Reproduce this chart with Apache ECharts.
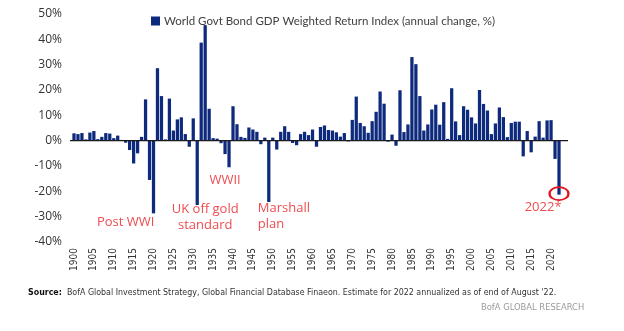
<!DOCTYPE html>
<html>
<head>
<meta charset="utf-8">
<script src="https://cdn.jsdelivr.net/npm/echarts@6/dist/echarts.min.js"></script>
<style>
  html, body { margin: 0; padding: 0; background: #ffffff; }
  #chart { width: 624px; height: 331px; }
</style>
</head>
<body>
<div id="chart"></div>
<script>
// Years on the category axis
const firstYear = 1900;
const lastYear = 2022;
const years = [];
for (let y = firstYear; y <= lastYear; y++) years.push(String(y));

// Annual change of the index, % (2022 is the annualized estimate)
const returns = [
  2.9, 2.6, 3.0, 0.5, 3.2, 3.8, 0.6, 1.5, 3.0, 2.8,        // 1900-1909
  1.0, 2.0, 0.3, -0.8, -3.7, -9.0, -5.0, 1.5, 16.3, -15.5, // 1910-1919
  -28.7, 28.6, 17.6, 0.5, 16.6, 4.0, 8.4, 9.2, 2.6, -2.4,  // 1920-1929
  8.8, -25.4, 38.7, 45.6, 12.6, 1.0, 0.8, -1.0, -5.3, -10.5, // 1930-1939
  13.6, 6.5, 1.5, 1.1, 5.2, 4.4, 3.5, -1.4, 1.2, -24.2,    // 1940-1949
  1.2, -3.5, 3.5, 5.7, 3.5, -0.9, -1.8, 2.6, 3.5, 2.2,     // 1950-1959
  4.4, -2.4, 5.4, 6.0, 4.2, 4.0, 3.3, 1.6, 3.0, -0.3,      // 1960-1969
  8.2, 17.4, 7.0, 5.7, 3.1, 7.7, 11.4, 19.4, 14.6, -0.4,   // 1970-1979
  2.4, -2.0, 19.9, 3.4, 6.4, 33.0, 30.2, 17.6, 4.0, 6.4,   // 1980-1989
  12.3, 14.2, 6.3, 15.2, 0.7, 20.7, 7.6, 2.2, 13.6, 12.2,  // 1990-1999
  9.2, 6.8, 20.0, 14.5, 11.9, 2.6, 6.8, 13.1, 9.3, 1.4,    // 2000-2009
  7.0, 7.5, 7.5, -6.2, 3.8, -4.6, 1.6, 7.7, 1.2, 8.0,      // 2010-2019
  8.1, -7.2, -21.3                                          // 2020-2022
];

// Value axis ticks (%)
const yMin = -40;
const yMax = 50;
const yStep = 10;

const seriesName = 'World Govt Bond GDP Weighted Return Index (annual change, %)';

// Event call-outs anchored in data space
const eventNotes = [
  { text: 'Post WWI', year: '1913', value: -32.4, align: 'center' },
  { text: 'UK off gold\nstandard', year: '1933', value: -30.3, align: 'center' },
  { text: 'WWII', year: '1938', value: -15.6, align: 'center' },
  { text: 'Marshall\nplan', year: '1946', value: -29.8, align: 'left' },
  { text: '2022*', year: '2018', value: -26.2, align: 'center' }
];
const flaggedYear = '2022';

const footnote = "BofA Global Investment Strategy, Global Financial Database Finaeon. Estimate for 2022 annualized as of end of August '22.";
const brand = 'BofA GLOBAL RESEARCH';

const NAVY = '#0e2a7c';
const NOTE_RED = '#ef4b50';
const RING_RED = '#e3141c';
const TEXT_FONT = '"Open Sans", "Noto Sans", sans-serif';
const NARROW_FONT = '"Liberation Sans Narrow", "DejaVu Sans Condensed", sans-serif';

const chart = echarts.init(document.getElementById('chart'), null, { renderer: 'canvas' });

const notePoints = eventNotes.map(n => ({
  coord: [n.year, n.value],
  symbol: 'rect',
  symbolSize: 1,
  itemStyle: { color: 'rgba(0,0,0,0)' },
  label: {
    show: true,
    position: 'inside',
    formatter: n.text,
    color: NOTE_RED,
    fontSize: 13,
    fontFamily: TEXT_FONT,
    lineHeight: 16,
    align: n.align,
    verticalAlign: 'middle',
    offset: n.align === 'left' ? [1, 0] : [0, 0]
  }
}));

notePoints.push({
  coord: [flaggedYear, returns[years.indexOf(flaggedYear)]],
  symbol: 'circle',
  symbolSize: [19, 13],
  symbolOffset: [0, -1],
  itemStyle: { color: 'rgba(0,0,0,0)', borderColor: RING_RED, borderWidth: 2 },
  label: { show: false }
});

chart.setOption({
  animation: false,
  backgroundColor: '#ffffff',
  grid: { left: 72, top: 14, width: 489, height: 228, containLabel: false },
  legend: {
    left: 146,
    top: 10,
    icon: 'rect',
    itemWidth: 9,
    itemHeight: 9,
    itemGap: 4,
    textStyle: { color: '#404040', fontSize: 11.5, fontFamily: 'Lato, "Open Sans", sans-serif', padding: [0, 0, 0, -1] },
    data: [seriesName]
  },
  xAxis: {
    type: 'category',
    data: years,
    boundaryGap: true,
    axisLine: { show: false, onZero: false },
    axisTick: { show: false },
    axisLabel: {
      interval: 4,
      rotate: 90,
      margin: 6,
      color: '#333333',
      fontSize: 10,
      fontFamily: NARROW_FONT
    },
    splitLine: { show: false }
  },
  yAxis: {
    type: 'value',
    min: yMin,
    max: yMax,
    interval: yStep,
    axisLine: { show: false },
    axisTick: { show: false },
    splitLine: { show: false },
    axisLabel: {
      formatter: '{value}%',
      margin: 10,
      color: '#333333',
      fontSize: 12,
      fontFamily: TEXT_FONT
    }
  },
  series: [{
    name: seriesName,
    type: 'bar',
    data: returns,
    barCategoryGap: '18%',
    itemStyle: { color: NAVY },
    markPoint: { silent: true, data: notePoints }
  }]
});

// Zero reference line and footer
const zeroY = chart.convertToPixel({ yAxisIndex: 0 }, 0);
chart.setOption({
  graphic: [
    {
      type: 'line',
      shape: { x1: 70, y1: zeroY, x2: 568, y2: zeroY },
      style: { stroke: '#1a1a1a', lineWidth: 1.3 },
      z: 10,
      silent: true
    },
    {
      type: 'text',
      left: 28,
      top: 288,
      style: {
        text: '{b|Source:}  ' + footnote,
        rich: {
          b: { fontWeight: 'bold', fill: '#111111', fontSize: 8.8, fontFamily: NARROW_FONT }
        },
        fill: '#333333',
        fontSize: 8.8,
        fontFamily: NARROW_FONT
      }
    },
    {
      type: 'text',
      left: 481,
      top: 303,
      style: {
        text: brand,
        fill: '#9a9a9a',
        fontSize: 9.3,
        fontFamily: NARROW_FONT
      }
    }
  ]
});
</script>
</body>
</html>
